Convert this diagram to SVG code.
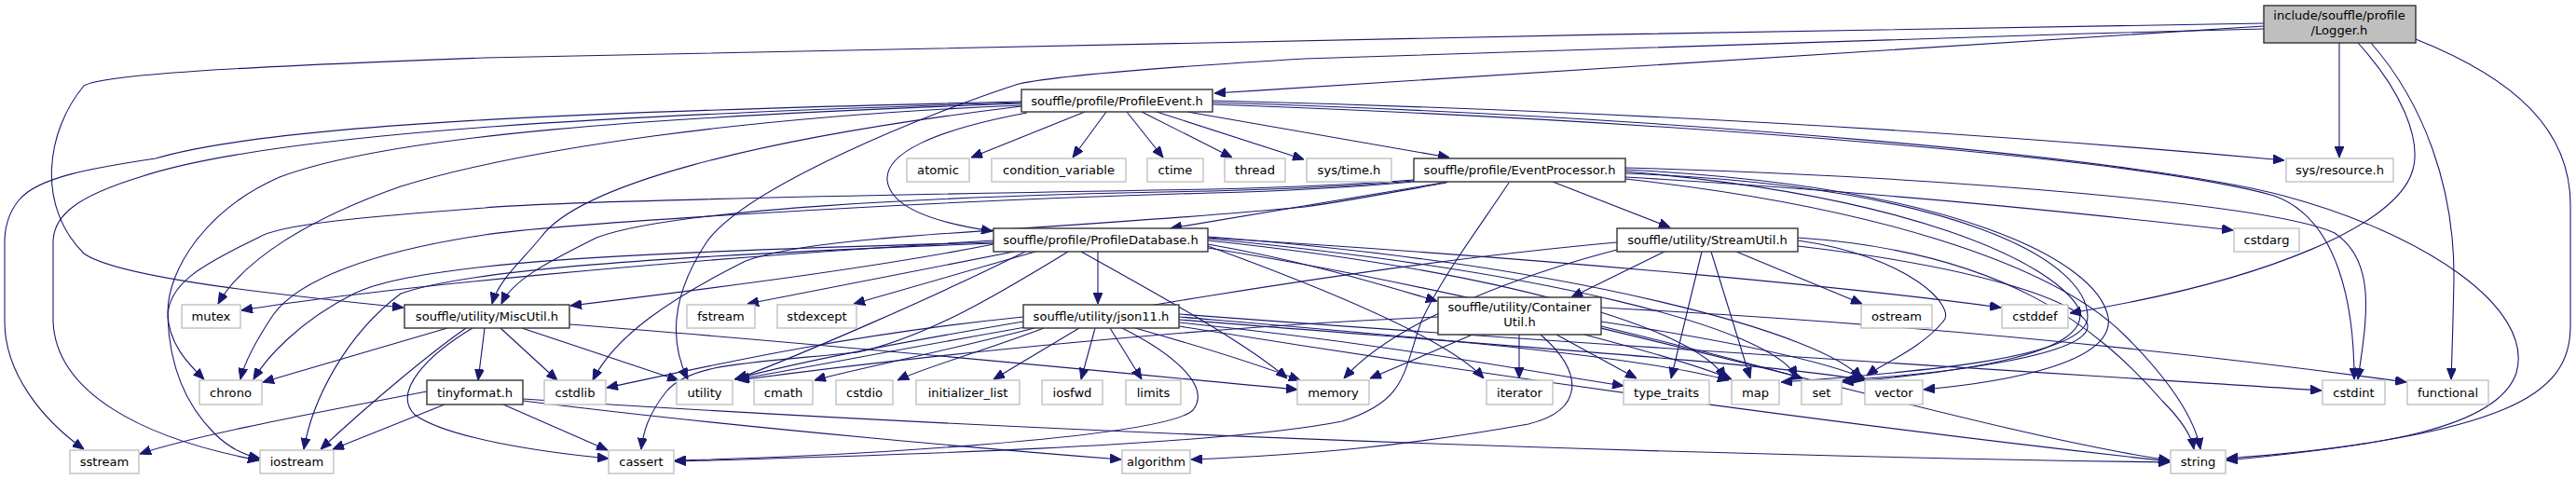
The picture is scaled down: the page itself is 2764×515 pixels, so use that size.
<svg xmlns="http://www.w3.org/2000/svg" width="2764" height="515" viewBox="0 0 2764 515">
<style>
text{font-family:"DejaVu Sans","Liberation Sans",sans-serif;font-size:13.1px;text-anchor:middle;fill:#000}
.m rect{fill:#fff;stroke:#333;stroke-width:1.4}
.s rect{fill:#fff;stroke:#c0c0c0;stroke-width:1.4}
.r rect{fill:#bfbfbf;stroke:#333;stroke-width:1.4}
#edges path{fill:none;stroke:#191970;stroke-width:1.1;marker-end:url(#a)}
</style>
<defs>
<marker id="a" markerUnits="userSpaceOnUse" markerWidth="12" markerHeight="10" viewBox="0 0 12 10" refX="12" refY="5" orient="auto"><path d="M0,0L12,5L0,10z" fill="#191970" stroke="#191970"/></marker>
</defs>
<rect width="2764" height="515" fill="#fff"/>
<g id="edges">
<path d="M2429,28 C2100,48 1700,75 1303,100"/>
<path d="M2429,25 C1800,36 900,50 520,62 C250,72 110,80 90,92 C50,140 38,220 90,272 C130,300 320,318 433,330"/>
<path d="M2429,31 C2000,42 1500,58 1400,63 C1250,72 1130,82 1093,90 C1000,120 800,200 758,260 C725,310 715,360 738,407"/>
<path d="M2510,46 L2510,169"/>
<path d="M2530,46 C2575,95 2600,150 2588,185 C2570,240 2440,300 2221,336"/>
<path d="M2544,46 C2600,110 2634,200 2633,300 C2632,350 2631,380 2630,407"/>
<path d="M2592,42 C2700,85 2758,140 2758,220 L2758,350 C2758,425 2690,465 2389,494"/>
<path d="M1164,120 L1042,169"/>
<path d="M1187,120 L1151,169"/>
<path d="M1209,120 L1248,169"/>
<path d="M1225,120 L1322,169"/>
<path d="M1241,120 L1399,171"/>
<path d="M1274,120 L1555,169"/>
<path d="M1102,121 C1000,140 950,165 952,193 C955,225 1010,240 1065,248"/>
<path d="M1096,114 C800,150 620,200 580,255 C560,280 535,300 528,326"/>
<path d="M1096,113 C800,125 560,160 430,200 C330,235 260,280 234,326"/>
<path d="M1096,111 C700,125 420,145 300,190 C220,225 180,290 180,335 C180,370 205,393 219,407"/>
<path d="M1096,110 C700,122 300,140 150,190 C85,210 57,230 57,260 L57,345 C60,420 150,470 278,494"/>
<path d="M1096,109 C700,118 300,130 167,170 C100,180 40,190 20,215 C8,230 5,245 5,260 L5,345 C5,400 45,450 90,482"/>
<path d="M1301,108 C1700,118 2100,140 2451,172"/>
<path d="M1301,112 C1800,130 2300,170 2440,210 C2510,235 2526,330 2526,407"/>
<path d="M1301,110 C1800,125 2300,170 2450,210 C2600,250 2720,330 2700,400 C2680,460 2550,480 2389,492"/>
<path d="M1554,195 L1256,245"/>
<path d="M1666,195 L1792,244"/>
<path d="M1744,190 C2000,205 2200,225 2396,247"/>
<path d="M1517,194 C1450,200 1380,203 1300,205 C1000,210 720,225 640,255 C590,280 550,300 538,326"/>
<path d="M1517,195 C1450,201 1380,205 1300,207 C1000,215 600,240 520,252 C400,270 320,300 293,338 C275,365 262,390 258,407"/>
<path d="M1517,193 C1450,198 1380,201 1300,203 C1000,208 600,215 520,223 C400,232 300,240 277,255 C215,285 180,305 180,340 C182,400 205,440 230,465 C245,480 260,488 279,492"/>
<path d="M1552,196 C1500,205 1450,215 1400,222 C1100,250 880,250 800,280 C720,320 660,360 636,408"/>
<path d="M1619,196 C1590,240 1545,300 1525,345 C1505,400 1510,430 1440,452 C1300,480 900,490 724,495"/>
<path d="M1744,180 C2100,190 2440,220 2505,250 C2550,280 2540,340 2530,407"/>
<path d="M1744,186 C2100,200 2240,280 2240,340 C2240,385 2050,400 1911,410"/>
<path d="M1744,184 C2050,210 2200,280 2230,330 C2250,380 2100,400 1977,410"/>
<path d="M1744,182 C2100,200 2250,280 2262,340 C2270,390 2150,410 2064,418"/>
<path d="M1744,192 C2000,220 2200,280 2280,360 C2330,410 2355,450 2361,482"/>
<path d="M1178,270 L1178,326"/>
<path d="M1296,262 C1400,280 1480,305 1542,323"/>
<path d="M1066,262 C950,285 800,305 612,328"/>
<path d="M1066,258 C700,280 400,310 259,333"/>
<path d="M1088,270 L802,326"/>
<path d="M1111,270 L916,326"/>
<path d="M1066,260 C700,270 450,280 380,315 C320,345 285,385 272,407"/>
<path d="M1066,261 C700,275 500,290 430,315 C370,360 335,430 326,482"/>
<path d="M1146,270 C1080,310 1000,360 920,378 C800,390 740,390 715,420 C695,445 690,465 688,482"/>
<path d="M1100,270 C1000,320 860,380 790,407"/>
<path d="M1160,270 C1250,320 1340,370 1381,406"/>
<path d="M1296,264 C1450,320 1560,370 1592,406"/>
<path d="M1296,255 C1700,280 2000,310 2147,330"/>
<path d="M1296,258 C1600,290 1820,350 1851,406"/>
<path d="M1296,256 C1650,290 1900,350 1928,405"/>
<path d="M1296,254 C1700,285 1960,360 1997,406"/>
<path d="M1296,266 C1700,330 2100,460 2328,494"/>
<path d="M1786,270 L1686,319"/>
<path d="M1863,270 L1998,326"/>
<path d="M1836,270 L1878,406"/>
<path d="M1826,270 L1793,406"/>
<path d="M1735,268 C1650,290 1500,340 1442,406"/>
<path d="M1735,260 C1400,290 1000,370 792,407"/>
<path d="M1929,258 C2050,275 2100,330 2085,345 C2060,375 2020,390 2003,403"/>
<path d="M1929,264 C2150,290 2240,330 2240,350 C2240,380 2100,400 1977,408"/>
<path d="M1929,255 C2150,270 2250,350 2320,430 C2345,455 2352,470 2354,482"/>
<path d="M1630,359 L1630,406"/>
<path d="M1580,359 L1470,406"/>
<path d="M1670,359 L1756,406"/>
<path d="M1700,359 C1780,380 1830,395 1858,407"/>
<path d="M1718,350 C1800,370 1880,390 1934,406"/>
<path d="M1718,345 C1850,365 1950,385 2001,406"/>
<path d="M1653,359 C1700,400 1700,440 1640,455 C1500,480 1400,488 1278,493"/>
<path d="M1543,340 C1300,350 1000,380 792,408"/>
<path d="M1718,330 C2100,350 2400,385 2582,410"/>
<path d="M1098,345 C950,370 850,390 788,407"/>
<path d="M1110,352 C1000,380 900,400 874,408"/>
<path d="M1120,352 C1060,375 990,395 963,408"/>
<path d="M1158,352 L1066,407"/>
<path d="M1175,352 L1160,407"/>
<path d="M1191,352 L1225,407"/>
<path d="M1204,352 C1260,380 1300,415 1280,440 C1250,470 900,490 724,494"/>
<path d="M1218,352 C1300,375 1360,395 1395,408"/>
<path d="M1265,340 C1500,360 1750,380 1855,408"/>
<path d="M1265,343 C1600,370 1900,390 2001,408"/>
<path d="M1265,346 C1500,370 1650,400 1742,414"/>
<path d="M1265,337 C1700,370 2200,400 2491,419"/>
<path d="M1265,350 C1700,420 2100,470 2328,495"/>
<path d="M1098,340 C900,360 750,395 651,416"/>
<path d="M480,352 L282,410"/>
<path d="M520,352 L513,408"/>
<path d="M537,352 L598,408"/>
<path d="M500,352 C460,380 400,430 344,482"/>
<path d="M507,352 C460,380 420,420 445,445 C480,470 580,485 653,492"/>
<path d="M560,352 L728,408"/>
<path d="M611,348 C900,370 1200,400 1392,418"/>
<path d="M458,420 C300,450 200,470 150,487"/>
<path d="M477,434 L357,482"/>
<path d="M540,434 L652,483"/>
<path d="M561,430 C800,460 1100,485 1203,493"/>
<path d="M561,428 C1200,470 1900,490 2328,496"/>
</g>
<g id="n-logger" class="r"><rect x="2429" y="6" width="163" height="40"/><text x="2510" y="21">include/souffle/profile</text><text x="2510" y="37">/Logger.h</text></g>
<g id="n-profileevent" class="m"><rect x="1096" y="96" width="205" height="24"/><text x="1198.5" y="112.5">souffle/profile/ProfileEvent.h</text></g>
<g id="n-atomic" class="s"><rect x="973" y="170" width="67" height="25"/><text x="1006.5" y="187">atomic</text></g>
<g id="n-condvar" class="s"><rect x="1064" y="170" width="144" height="25"/><text x="1136" y="187">condition_variable</text></g>
<g id="n-ctime" class="s"><rect x="1231" y="170" width="60" height="25"/><text x="1261" y="187">ctime</text></g>
<g id="n-thread" class="s"><rect x="1314" y="170" width="65" height="25"/><text x="1346.5" y="187">thread</text></g>
<g id="n-systime" class="s"><rect x="1402" y="170" width="91" height="25"/><text x="1447.5" y="187">sys/time.h</text></g>
<g id="n-eventprocessor" class="m"><rect x="1517" y="170" width="227" height="25"/><text x="1630.5" y="187">souffle/profile/EventProcessor.h</text></g>
<g id="n-sysresource" class="s"><rect x="2453" y="170" width="115" height="25"/><text x="2510.5" y="187">sys/resource.h</text></g>
<g id="n-profiledatabase" class="m"><rect x="1066" y="245" width="230" height="25"/><text x="1181" y="262">souffle/profile/ProfileDatabase.h</text></g>
<g id="n-streamutil" class="m"><rect x="1735" y="245" width="194" height="25"/><text x="1832" y="262">souffle/utility/StreamUtil.h</text></g>
<g id="n-cstdarg" class="s"><rect x="2397" y="245" width="70" height="25"/><text x="2432" y="262">cstdarg</text></g>
<g id="n-mutex" class="s"><rect x="195" y="327" width="63" height="25"/><text x="226.5" y="344">mutex</text></g>
<g id="n-miscutil" class="m"><rect x="434" y="327" width="177" height="25"/><text x="522.5" y="344">souffle/utility/MiscUtil.h</text></g>
<g id="n-fstream" class="s"><rect x="737" y="327" width="73" height="25"/><text x="773.5" y="344">fstream</text></g>
<g id="n-stdexcept" class="s"><rect x="834" y="327" width="85" height="25"/><text x="876.5" y="344">stdexcept</text></g>
<g id="n-json11" class="m"><rect x="1098" y="327" width="167" height="25"/><text x="1181.5" y="344">souffle/utility/json11.h</text></g>
<g id="n-containerutil" class="m"><rect x="1543" y="319" width="175" height="40"/><text x="1630.5" y="334">souffle/utility/Container</text><text x="1630.5" y="350">Util.h</text></g>
<g id="n-ostream" class="s"><rect x="1997" y="327" width="76" height="25"/><text x="2035" y="344">ostream</text></g>
<g id="n-cstddef" class="s"><rect x="2148" y="327" width="71" height="25"/><text x="2183.5" y="344">cstddef</text></g>
<g id="n-chrono" class="s"><rect x="214" y="408" width="67" height="26"/><text x="247.5" y="425.5">chrono</text></g>
<g id="n-tinyformat" class="m"><rect x="458" y="408" width="103" height="26"/><text x="509.5" y="425.5">tinyformat.h</text></g>
<g id="n-cstdlib" class="s"><rect x="584" y="408" width="66" height="26"/><text x="617" y="425.5">cstdlib</text></g>
<g id="n-utility" class="s"><rect x="726" y="408" width="60" height="26"/><text x="756" y="425.5">utility</text></g>
<g id="n-cmath" class="s"><rect x="809" y="408" width="63" height="26"/><text x="840.5" y="425.5">cmath</text></g>
<g id="n-cstdio" class="s"><rect x="897" y="408" width="61" height="26"/><text x="927.5" y="425.5">cstdio</text></g>
<g id="n-initlist" class="s"><rect x="983" y="408" width="111" height="26"/><text x="1038.5" y="425.5">initializer_list</text></g>
<g id="n-iosfwd" class="s"><rect x="1118" y="408" width="65" height="26"/><text x="1150.5" y="425.5">iosfwd</text></g>
<g id="n-limits" class="s"><rect x="1208" y="408" width="59" height="26"/><text x="1237.5" y="425.5">limits</text></g>
<g id="n-memory" class="s"><rect x="1392" y="408" width="77" height="26"/><text x="1430.5" y="425.5">memory</text></g>
<g id="n-iterator" class="s"><rect x="1595" y="408" width="71" height="26"/><text x="1630.5" y="425.5">iterator</text></g>
<g id="n-typetraits" class="s"><rect x="1742" y="408" width="92" height="26"/><text x="1788" y="425.5">type_traits</text></g>
<g id="n-map" class="s"><rect x="1858" y="408" width="51" height="26"/><text x="1883.5" y="425.5">map</text></g>
<g id="n-set" class="s"><rect x="1933" y="408" width="43" height="26"/><text x="1954.5" y="425.5">set</text></g>
<g id="n-vector" class="s"><rect x="2001" y="408" width="62" height="26"/><text x="2032" y="425.5">vector</text></g>
<g id="n-cstdint" class="s"><rect x="2492" y="408" width="67" height="26"/><text x="2525.5" y="425.5">cstdint</text></g>
<g id="n-functional" class="s"><rect x="2583" y="408" width="87" height="26"/><text x="2626.5" y="425.5">functional</text></g>
<g id="n-sstream" class="s"><rect x="75" y="483" width="74" height="25"/><text x="112" y="500">sstream</text></g>
<g id="n-iostream" class="s"><rect x="279" y="483" width="79" height="25"/><text x="318.5" y="500">iostream</text></g>
<g id="n-cassert" class="s"><rect x="653" y="483" width="70" height="25"/><text x="688" y="500">cassert</text></g>
<g id="n-algorithm" class="s"><rect x="1204" y="483" width="73" height="25"/><text x="1240.5" y="500">algorithm</text></g>
<g id="n-string" class="s"><rect x="2329" y="483" width="59" height="25"/><text x="2358.5" y="500">string</text></g>
</svg>
